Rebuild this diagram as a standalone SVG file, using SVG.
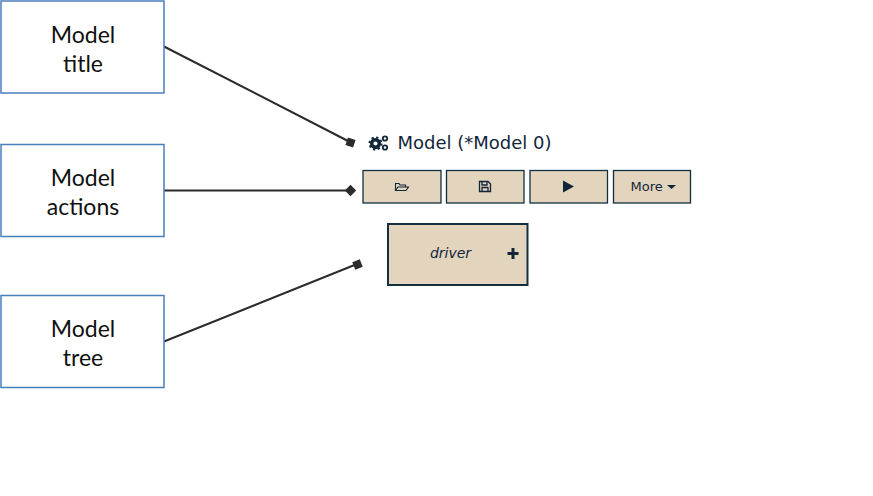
<svg xmlns="http://www.w3.org/2000/svg" width="873" height="496" viewBox="0 0 873 496">
<style>
.box{fill:#fff;stroke:#4a7ebb;stroke-width:1.500}
.lbl{font-family:Lato,"Open Sans",sans-serif;font-size:23px;fill:#111;text-anchor:middle}
.conn{stroke:#2b2b2b;stroke-width:2;fill:none}
.head{fill:#2b2b2b}
.btn{fill:#e2d4bd;stroke:#12303f;stroke-width:1.300}
.ui{font-family:"DejaVu Sans",sans-serif;fill:#12263a}
.ic{fill:#12263a}
</style>
<rect width="873" height="496" fill="#fff"/>
<g id="connectors">
<path class="conn" d="M164 46.500L350 142"/>
<path class="conn" d="M164 190.500H350"/>
<path class="conn" d="M164 341.500L357 264"/>
<rect class="head" x="-4" y="-4" width="8" height="8" transform="translate(350.500 142.500) rotate(18)"/>
<rect class="head" x="-4" y="-4" width="8" height="8" transform="translate(350.500 190.500) rotate(45)"/>
<rect class="head" x="-4" y="-4" width="8" height="8" transform="translate(357.500 264.500) rotate(-22)"/>
</g>
<g id="node-title"><rect class="box" x="1" y="1" width="163" height="92"/><text class="lbl" x="83" y="43">Model</text><text class="lbl" x="83" y="72">title</text></g>
<g id="node-actions"><rect class="box" x="1" y="144.500" width="163" height="92"/><text class="lbl" x="83" y="186">Model</text><text class="lbl" x="83" y="215">actions</text></g>
<g id="node-tree"><rect class="box" x="1" y="295.500" width="163" height="92"/><text class="lbl" x="83" y="337">Model</text><text class="lbl" x="83" y="366">tree</text></g>
<g id="model-heading">
<circle cx="375.500" cy="143.500" r="3.800" fill="none" stroke="#12263a" stroke-width="3.400"/>
<circle cx="375.500" cy="143.500" r="6" fill="none" stroke="#12263a" stroke-width="2" stroke-dasharray="2.300 2.400"/>
<circle cx="385" cy="138.500" r="2.200" fill="none" stroke="#12263a" stroke-width="1.800"/>
<circle cx="385" cy="147.500" r="2.200" fill="none" stroke="#12263a" stroke-width="1.800"/>
<text class="ui" x="397.500" y="148.500" font-size="18">Model (*Model 0)</text>
</g>
<g id="btn-open"><rect class="btn" x="363" y="170.500" width="78" height="32.500"/>
<path d="M395.500 190.500V183.500H399L400 185H405.500V187M395.500 190.500L398 187H408.500L406 190.500Z" fill="none" stroke="#12263a" stroke-width="1.100"/></g>
<g id="btn-save"><rect class="btn" x="446.500" y="170.500" width="77.500" height="32.500"/>
<path d="M479.500 181.500H488L490.500 184V191.500H479.500ZM482 182V185H487V182M482 191V187.500H488V191" fill="none" stroke="#12263a" stroke-width="1.300"/></g>
<g id="btn-run"><rect class="btn" x="530" y="170.500" width="77.500" height="32.500"/>
<path class="ic" d="M563 180.500L574 186.500L563 192.500Z"/></g>
<g id="btn-more"><rect class="btn" x="613.500" y="170.500" width="77" height="32.500"/>
<text class="ui" x="630.500" y="191" font-size="13">More</text>
<path class="ic" d="M667 185H676L671.500 189Z"/></g>
<g id="node-driver"><rect x="388" y="224" width="139.500" height="61" fill="#e2d4bd" stroke="#12303f" stroke-width="2"/>
<text class="ui" x="450.500" y="258" font-size="14" font-style="italic" text-anchor="middle">driver</text>
<path class="ic" d="M511.500 248H514.500V252H518.500V255H514.500V259H511.500V255H507.500V252H511.500Z"/></g>
</svg>
